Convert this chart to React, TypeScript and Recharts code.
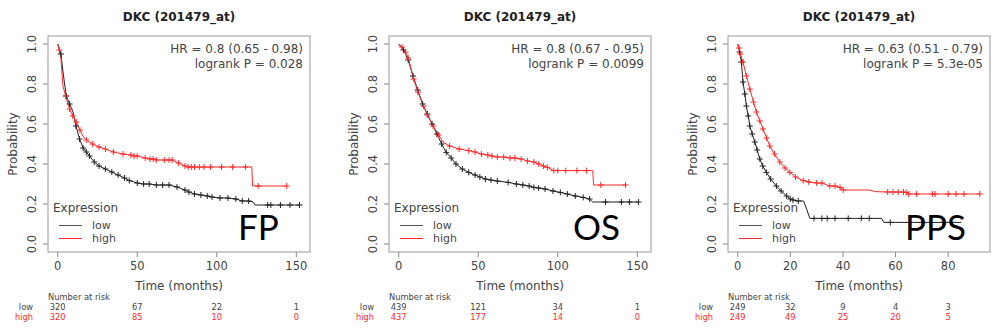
import React from 'react';
import { LineChart, Line, XAxis, YAxis } from 'recharts';

// [time (months), survival probability, censored mark (1 = "+")]
type Pt = [number, number, number];

const fpHigh: Pt[] = [
  [0, 1, 0], [1, 0.97, 1], [2, 0.93, 0], [3.3, 0.79, 0], [5, 0.74, 1], [7.5, 0.675, 1], [9.5, 0.64, 1],
  [11.7, 0.61, 1], [14, 0.57, 1], [15.8, 0.54, 0], [18, 0.52, 1], [22, 0.5, 1], [26, 0.485, 1], [30, 0.475, 1],
  [35, 0.46, 1], [41, 0.45, 1], [46, 0.445, 1], [48, 0.44, 1], [50, 0.44, 1], [55, 0.43, 1], [58, 0.425, 1],
  [60, 0.425, 1], [62, 0.42, 1], [67, 0.42, 1], [70, 0.42, 1], [72, 0.42, 1], [76, 0.405, 1], [80, 0.39, 1],
  [82, 0.385, 1], [84, 0.385, 1], [86, 0.385, 1], [89, 0.385, 1], [92, 0.385, 1], [96, 0.385, 1],
  [103, 0.385, 1], [110, 0.385, 1], [118, 0.385, 1], [122, 0.385, 0], [122.5, 0.29, 0], [126, 0.29, 1],
  [144, 0.29, 1],
];
const fpLow: Pt[] = [
  [0, 1, 0], [2, 0.95, 1], [3.5, 0.85, 0], [5.4, 0.74, 1], [7.5, 0.7, 1], [9.6, 0.66, 0], [11.5, 0.59, 1],
  [13.75, 0.525, 1], [16, 0.48, 1], [18, 0.46, 1], [20, 0.44, 1], [23, 0.41, 1], [26, 0.39, 1], [30, 0.375, 1],
  [34, 0.36, 1], [38, 0.345, 1], [42, 0.33, 1], [45, 0.317, 1], [50, 0.305, 1], [54, 0.3, 1], [57.5, 0.3, 1],
  [62, 0.295, 1], [66, 0.295, 1], [70, 0.295, 1], [75, 0.285, 1], [80, 0.27, 1], [82.5, 0.26, 1], [86, 0.25, 1],
  [90, 0.245, 1], [94, 0.24, 1], [97, 0.235, 1], [102, 0.23, 1], [107, 0.23, 1], [112, 0.225, 1],
  [116, 0.215, 1], [120, 0.215, 1], [123, 0.21, 0], [124, 0.195, 0], [132, 0.195, 1], [134, 0.195, 1],
  [140, 0.195, 1], [146, 0.195, 1], [152, 0.195, 1],
];

const osHigh: Pt[] = [
  [0, 1, 0], [2, 0.985, 1], [4.3, 0.96, 1], [6, 0.93, 1], [9.4, 0.825, 1], [12, 0.76, 1], [15.6, 0.69, 1],
  [18, 0.645, 1], [21.7, 0.59, 1], [25, 0.545, 1], [27.9, 0.51, 0], [32, 0.49, 1], [38, 0.475, 1],
  [44, 0.467, 1], [48, 0.46, 1], [52, 0.45, 1], [56, 0.445, 1], [58.6, 0.44, 1], [62, 0.435, 1],
  [66, 0.435, 1], [70, 0.43, 1], [73, 0.43, 1], [77, 0.425, 1], [81, 0.415, 1], [85, 0.41, 1], [88, 0.4, 1],
  [91, 0.39, 1], [93.4, 0.383, 1], [97.5, 0.367, 1], [100, 0.367, 1], [105, 0.367, 1], [112, 0.367, 1],
  [118, 0.367, 1], [122, 0.367, 0], [122.5, 0.295, 0], [127, 0.295, 1], [142.6, 0.295, 1],
];
const osLow: Pt[] = [
  [0, 1, 0], [3, 0.97, 1], [6, 0.92, 1], [9, 0.84, 1], [12, 0.77, 1], [15, 0.7, 1], [18, 0.65, 1],
  [21, 0.6, 1], [24, 0.55, 1], [27, 0.5, 1], [29.9, 0.458, 1], [33, 0.43, 1], [36, 0.4, 1], [40, 0.375, 1],
  [44, 0.358, 1], [48, 0.345, 1], [51, 0.335, 1], [54.5, 0.325, 1], [58, 0.32, 1], [62, 0.315, 1],
  [68.8, 0.308, 1], [74, 0.3, 1], [78, 0.295, 1], [82, 0.29, 1], [85, 0.283, 1], [88, 0.28, 1],
  [92, 0.275, 1], [97, 0.265, 1], [101.6, 0.258, 1], [106, 0.25, 1], [111, 0.24, 1], [116, 0.233, 1],
  [120, 0.225, 1], [122, 0.21, 0], [130, 0.21, 1], [140, 0.21, 1], [145, 0.21, 1], [150.8, 0.21, 1],
];

const ppsHigh: Pt[] = [
  [0, 1, 0], [0.5, 0.98, 1], [1, 0.95, 1], [2, 0.91, 1], [3.3, 0.84, 1], [4.6, 0.775, 1], [6, 0.71, 1],
  [7.1, 0.66, 1], [8.4, 0.615, 1], [9.6, 0.575, 1], [11, 0.53, 1], [12.2, 0.49, 1], [14, 0.45, 1],
  [16, 0.41, 1], [18, 0.38, 1], [19.8, 0.358, 1], [22, 0.335, 1], [24.9, 0.317, 1], [27, 0.31, 1],
  [30, 0.305, 1], [32, 0.305, 1], [35, 0.29, 1], [37, 0.29, 1], [38.9, 0.283, 1], [40.1, 0.27, 1],
  [45, 0.27, 0], [50.3, 0.27, 0], [52, 0.262, 0], [57, 0.26, 1], [59, 0.26, 1], [61, 0.26, 1], [63, 0.26, 1],
  [64, 0.258, 1], [65, 0.25, 1], [68, 0.25, 1], [74, 0.25, 1], [75, 0.25, 1], [80, 0.25, 1], [83, 0.25, 1],
  [86, 0.25, 1], [92, 0.25, 1],
];
const ppsLow: Pt[] = [
  [0, 1, 0], [0.7, 0.96, 1], [1.4, 0.91, 1], [2, 0.81, 1], [2.7, 0.75, 1], [3.3, 0.69, 1], [4, 0.64, 1],
  [4.6, 0.59, 1], [5.5, 0.55, 1], [6.5, 0.51, 1], [7.4, 0.47, 1], [8.4, 0.425, 1], [9.5, 0.39, 1],
  [10.9, 0.358, 1], [12.5, 0.325, 1], [14.7, 0.29, 1], [16.5, 0.265, 1], [18.6, 0.24, 1], [20, 0.225, 1],
  [21, 0.22, 1], [23, 0.215, 1], [25, 0.215, 0], [26.2, 0.175, 0], [27.4, 0.128, 0], [29, 0.128, 1],
  [32, 0.128, 1], [34, 0.128, 1], [37, 0.128, 1], [42, 0.128, 1], [47, 0.128, 1], [50, 0.128, 1],
  [54.7, 0.128, 0], [55.5, 0.108, 0], [58, 0.108, 1], [70, 0.108, 1], [78, 0.108, 1], [85, 0.108, 0],
];

const longTicks = [0, 50, 100, 150];
const ppsTicks = [0, 20, 40, 60, 80];
const yTicks = [0, 0.2, 0.4, 0.6, 0.8, 1.0];

const fpRiskLow = ['320', '67', '22', '1'];
const fpRiskHigh = ['320', '85', '10', '0'];
const osRiskLow = ['439', '121', '34', '1'];
const osRiskHigh = ['437', '177', '14', '0'];
const ppsRiskLow = ['249', '32', '9', '4', '3'];
const ppsRiskHigh = ['249', '49', '25', '20', '5'];

const titles = ['DKC (201479_at)', 'DKC (201479_at)', 'DKC (201479_at)'];
const hrTexts = ['HR = 0.8 (0.65 - 0.98)', 'HR = 0.8 (0.67 - 0.95)', 'HR = 0.63 (0.51 - 0.79)'];
const pTexts = ['logrank P = 0.028', 'logrank P = 0.0099', 'logrank P = 5.3e-05'];
const tags = ['FP', 'OS', 'PPS'];

const FONT = "'DejaVu Sans', sans-serif";
const GREY = '#444';
const LOW = '#222';
const HIGH = '#ff2a2a';

const toRows = (pts: Pt[]) => pts.map(([t, s, c]) => ({ t, s, c }));

interface PanelDef {
  left: number;
  width: number;
  margin: { top: number; right: number; bottom: number; left: number };
  xDomain: [number, number];
  ticks: number[];
  low: Pt[];
  high: Pt[];
  riskLow: string[];
  riskHigh: string[];
  tagX: number;
}

const panels: PanelDef[] = [
  { left: 0, width: 330, margin: { top: 36, right: 20, bottom: 6, left: 8 }, xDomain: [-6.1, 158.6], ticks: longTicks, low: fpLow, high: fpHigh, riskLow: fpRiskLow, riskHigh: fpRiskHigh, tagX: 238 },
  { left: 330, width: 330, margin: { top: 36, right: 9, bottom: 6, left: 19 }, xDomain: [-6.1, 158.6], ticks: longTicks, low: osLow, high: osHigh, riskLow: osRiskLow, riskHigh: osRiskHigh, tagX: 243 },
  { left: 660, width: 334, margin: { top: 36, right: 4, bottom: 6, left: 28 }, xDomain: [-3.7, 95.9], ticks: ppsTicks, low: ppsLow, high: ppsHigh, riskLow: ppsRiskLow, riskHigh: ppsRiskHigh, tagX: 245 },
];

const Y_AXIS_W = 40;
const X_AXIS_H = 75;
const H = 333;

function censorDot(color: string) {
  return (props: any) => {
    const { cx, cy, payload, index } = props;
    if (!payload || !payload.c || cx == null || cy == null) return <g key={`d${index}`} />;
    return (
      <path
        key={`d${index}`}
        d={`M${cx - 3},${cy}h6M${cx},${cy - 3}v6`}
        stroke={color}
        strokeWidth={1}
        fill="none"
      />
    );
  };
}

function Panel({ def, idx }: { def: PanelDef; idx: number }) {
  const boxL = def.margin.left + Y_AXIS_W;
  const boxR = def.width - def.margin.right;
  const boxT = def.margin.top;
  const boxB = H - def.margin.bottom - X_AXIS_H;
  const cx = (boxL + boxR) / 2;

  const xTick = (p: any) => {
    const i = def.ticks.indexOf(p.payload.value);
    return (
      <g key={`xt${p.index}`} fontFamily={FONT}>
        <text x={p.x} y={boxB + 18} textAnchor="middle" fontSize={11.5} fill={GREY}>
          {p.payload.value}
        </text>
        <text x={p.x} y={310} textAnchor="middle" fontSize={8.3} fill={GREY}>
          {def.riskLow[i]}
        </text>
        <text x={p.x} y={320} textAnchor="middle" fontSize={8.3} fill={HIGH}>
          {def.riskHigh[i]}
        </text>
      </g>
    );
  };

  const yTick = (p: any) => {
    const tx = boxL - 12;
    return (
      <text
        key={`yt${p.index}`}
        x={tx}
        y={p.y}
        transform={`rotate(-90, ${tx}, ${p.y})`}
        textAnchor="middle"
        fontFamily={FONT}
        fontSize={11.5}
        fill={GREY}
      >
        {Number(p.payload.value).toFixed(1)}
      </text>
    );
  };

  return (
    <div style={{ position: 'absolute', left: def.left, top: 0, width: def.width, height: H }}>
      <LineChart width={def.width} height={H} margin={def.margin}>
        <XAxis
          type="number"
          dataKey="t"
          domain={def.xDomain}
          allowDataOverflow
          ticks={def.ticks}
          interval={0}
          height={X_AXIS_H}
          axisLine={false}
          tickLine={{ stroke: '#888' }}
          tickSize={5}
          tick={xTick}
        />
        <YAxis
          type="number"
          domain={[-0.04, 1.04]}
          allowDataOverflow
          ticks={yTicks}
          interval={0}
          width={Y_AXIS_W}
          axisLine={false}
          tickLine={{ stroke: '#888' }}
          tickSize={5}
          tick={yTick}
        />
        <Line
          data={toRows(def.low)}
          dataKey="s"
          type="linear"
          stroke={LOW}
          strokeWidth={1}
          dot={censorDot(LOW)}
          activeDot={false}
          isAnimationActive={false}
        />
        <Line
          data={toRows(def.high)}
          dataKey="s"
          type="linear"
          stroke={HIGH}
          strokeWidth={1}
          dot={censorDot(HIGH)}
          activeDot={false}
          isAnimationActive={false}
        />
      </LineChart>
      <svg
        width={def.width}
        height={H}
        style={{ position: 'absolute', left: 0, top: 0, pointerEvents: 'none' }}
        fontFamily={FONT}
      >
        <rect x={boxL} y={boxT} width={boxR - boxL} height={boxB - boxT} fill="none" stroke="#999" />
        <text x={cx} y={21} textAnchor="middle" fontSize={12} fontWeight="bold" fill="#222">
          {titles[idx]}
        </text>
        <text x={boxR - 7} y={53} textAnchor="end" fontSize={12} fill={GREY}>
          {hrTexts[idx]}
        </text>
        <text x={boxR - 7} y={68} textAnchor="end" fontSize={12} fill={GREY}>
          {pTexts[idx]}
        </text>
        <text
          x={boxL - 31}
          y={(boxT + boxB) / 2}
          transform={`rotate(-90, ${boxL - 31}, ${(boxT + boxB) / 2})`}
          textAnchor="middle"
          fontSize={12}
          fill={GREY}
        >
          Probability
        </text>
        <text x={cx} y={290} textAnchor="middle" fontSize={12} fill={GREY}>
          Time (months)
        </text>
        <text x={boxL + 5} y={212} fontSize={12} fill={GREY}>
          Expression
        </text>
        <line x1={boxL + 11} x2={boxL + 34} y1={225.5} y2={225.5} stroke="#555" />
        <line x1={boxL + 11} x2={boxL + 34} y1={238.5} y2={238.5} stroke={HIGH} />
        <text x={boxL + 44} y={229} fontSize={11} fill={GREY}>
          low
        </text>
        <text x={boxL + 44} y={242} fontSize={11} fill={GREY}>
          high
        </text>
        <text x={def.tagX} y={240} fontFamily="Lato, 'Open Sans', sans-serif" fontSize={35} fill="#000">
          {tags[idx]}
        </text>
        <text x={boxL} y={300} fontSize={8.3} fill={GREY}>
          Number at risk
        </text>
        <text x={boxL - 15} y={310} textAnchor="end" fontSize={8.3} fill={GREY}>
          low
        </text>
        <text x={boxL - 15} y={320} textAnchor="end" fontSize={8.3} fill={HIGH}>
          high
        </text>
      </svg>
    </div>
  );
}

export default function App() {
  return (
    <div style={{ position: 'absolute', left: 0, top: 0, width: 994, height: 333, background: '#fff' }}>
      {panels.map((p, i) => (
        <Panel key={i} def={p} idx={i} />
      ))}
    </div>
  );
}
